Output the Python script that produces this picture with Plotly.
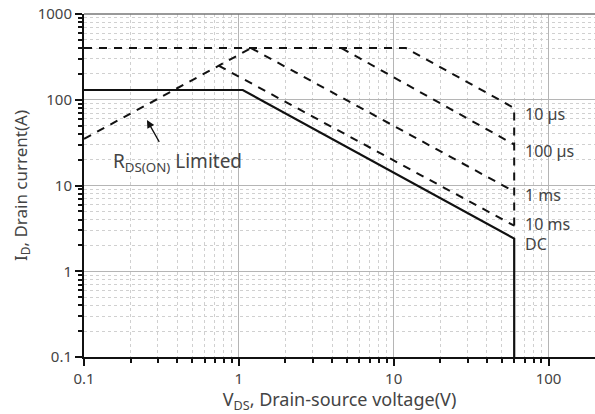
import math
import plotly.graph_objects as go

# Safe operating area curves (V_DS in V, I_D in A)
dc_v = [0.1, 1.06, 60, 60]
dc_i = [130, 130, 2.4, 0.1]

rds_v = [0.1, 0.74, 1.2]
rds_i = [35, 250, 400]

us10_v = [0.1, 12, 60, 60]
us10_i = [400, 400, 80, 3.4]

us100_v = [4.6, 60]
us100_i = [400, 30]

ms1_v = [1.2, 60]
ms1_i = [400, 8.5]

ms10_v = [0.74, 60]
ms10_i = [250, 3.4]

curve_labels = ["10 µs", "100 µs", "1 ms", "10 ms", "DC"]
label_i = [69, 25.5, 7.7, 3.6, 2.1]
label_v = 68

x_ticks = [0.1, 1, 10, 100]
y_ticks = [0.1, 1, 10, 100, 1000]

FONT = "Noto Sans"
TXT = "#444"
dash = "8px,7px"
L = math.log10


def minors(lo_exp, hi_exp):
    return [m * 10 ** k for k in range(lo_exp, hi_exp) for m in range(2, 10)]


fig = go.Figure()
for vx, iy in [(rds_v, rds_i), (us10_v, us10_i), (us100_v, us100_i), (ms1_v, ms1_i), (ms10_v, ms10_i)]:
    fig.add_trace(go.Scatter(x=vx, y=iy, mode="lines",
                             line=dict(color="#111", width=2, dash=dash),
                             showlegend=False, hoverinfo="skip"))
fig.add_trace(go.Scatter(x=dc_v, y=dc_i, mode="lines",
                         line=dict(color="#111", width=2.2),
                         showlegend=False, hoverinfo="skip"))

for lab, yi in zip(curve_labels, label_i):
    fig.add_annotation(x=L(label_v), y=L(yi), xref="x", yref="y", text=lab,
                       showarrow=False, xanchor="left", yanchor="middle",
                       font=dict(family=FONT, size=16, color=TXT))

fig.add_annotation(x=L(0.4), y=L(19.0), xref="x", yref="y",
                   text="R<sub>DS(ON)</sub> Limited", showarrow=False,
                   font=dict(family=FONT, size=19, color=TXT))
fig.add_annotation(x=L(0.255), y=L(58), ax=L(0.31), ay=L(31), xref="x", yref="y",
                   axref="x", ayref="y", text="", showarrow=True,
                   arrowhead=2, arrowsize=1.2, arrowwidth=1.3, arrowcolor="#111")

axis_common = dict(
    type="log",
    showline=True, linecolor="#111", linewidth=2,
    ticks="outside", ticklen=7, tickcolor="#111", tickwidth=1.5,
    showgrid=True, gridcolor="#b5b5b5", gridwidth=1,
    tickfont=dict(family=FONT, size=15, color=TXT),
    zeroline=False, mirror=False,
)
minor_style = dict(ticks="outside", ticklen=4, tickcolor="#111", showgrid=True,
                   gridcolor="#d0d0d0", griddash="dot", gridwidth=1)

fig.update_xaxes(**axis_common, range=[-1, 2.3], tickvals=x_ticks,
                 ticktext=[str(v) for v in x_ticks],
                 minor=dict(**minor_style, tickvals=minors(-1, 3)),
                 title=dict(text="V<sub>DS</sub>, Drain-source voltage(V)",
                            font=dict(family=FONT, size=18, color=TXT), standoff=5))
fig.update_yaxes(**axis_common, range=[-1, 3], tickvals=y_ticks,
                 ticktext=[str(v) for v in y_ticks],
                 minor=dict(**minor_style, tickvals=minors(-1, 3)),
                 title=dict(text="I<sub>D</sub>, Drain current(A)",
                            font=dict(family=FONT, size=17, color=TXT), standoff=6))

fig.add_shape(type="line", xref="paper", yref="paper", x0=0, x1=1, y0=1, y1=1,
              line=dict(color="#777", width=1.5))

fig.update_layout(width=595, height=414, margin=dict(l=84, r=0, t=14, b=57),
                  plot_bgcolor="white", paper_bgcolor="white")

fig.write_html("out.html")
